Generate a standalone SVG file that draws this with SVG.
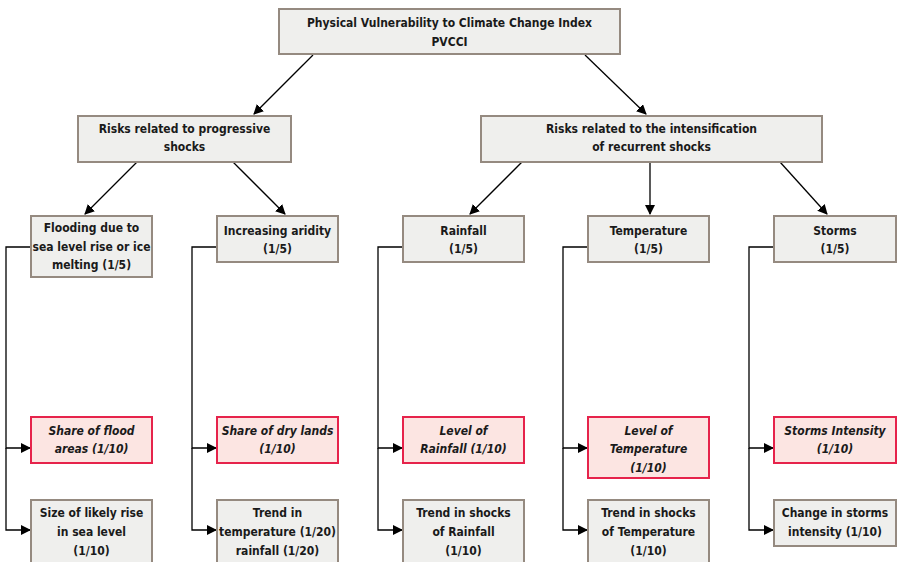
<svg xmlns="http://www.w3.org/2000/svg" width="897" height="562" viewBox="0 0 897 562">
<defs>
<marker id="ah" markerWidth="10" markerHeight="10" refX="9" refY="5" orient="auto" markerUnits="userSpaceOnUse">
<path d="M0,0 L10,5 L0,10 z" fill="#000"/>
</marker>
<style>
.g{fill:#efefed;stroke:#958a80;stroke-width:2}
.r{fill:#fce5e2;stroke:#e6234b;stroke-width:2}
text{font-family:"DejaVu Sans Condensed","Liberation Sans Narrow","Liberation Sans",sans-serif;font-stretch:condensed;font-weight:bold;font-size:12px;fill:#1a1a1a;text-anchor:middle;dominant-baseline:central}
.i{font-style:italic}
.c{fill:none;stroke:#000;stroke-width:1.3}
</style>
</defs>
<rect width="897" height="562" fill="#fff"/>
<g id="connectors">
<path class="c" d="M313,55 L254,114" marker-end="url(#ah)"/>
<path class="c" d="M585,55 L646,114" marker-end="url(#ah)"/>
<path class="c" d="M137,162 L85,214" marker-end="url(#ah)"/>
<path class="c" d="M233,162 L285,214" marker-end="url(#ah)"/>
<path class="c" d="M522,162 L470,214" marker-end="url(#ah)"/>
<path class="c" d="M650,162 L650,214" marker-end="url(#ah)"/>
<path class="c" d="M780,162 L827,214" marker-end="url(#ah)"/>
<path class="c" d="M31,247 H6 V448 H30" marker-end="url(#ah)"/>
<path class="c" d="M6,448 V530 H30" marker-end="url(#ah)"/>
<path class="c" d="M217,247 H192 V448 H216" marker-end="url(#ah)"/>
<path class="c" d="M192,448 V530 H216" marker-end="url(#ah)"/>
<path class="c" d="M403,247 H378 V448 H402" marker-end="url(#ah)"/>
<path class="c" d="M378,448 V530 H402" marker-end="url(#ah)"/>
<path class="c" d="M588,247 H563 V448 H587" marker-end="url(#ah)"/>
<path class="c" d="M563,448 V530 H587" marker-end="url(#ah)"/>
<path class="c" d="M774,247 H749 V448 H773" marker-end="url(#ah)"/>
<path class="c" d="M749,448 V530 H773" marker-end="url(#ah)"/>
</g>
<g id="pvcci"><rect class="g" x="279" y="9" width="341" height="45"/><text x="449.5" y="23">Physical Vulnerability to Climate Change Index</text><text x="449.5" y="42">PVCCI</text></g>
<g id="progressive"><rect class="g" x="78" y="116" width="213" height="46"/><text x="184.5" y="129">Risks related to progressive</text><text x="184.5" y="147">shocks</text></g>
<g id="recurrent"><rect class="g" x="481" y="116" width="341" height="46"/><text x="651.5" y="129">Risks related to the intensification</text><text x="651.5" y="147">of recurrent shocks</text></g>
<g id="flooding"><rect class="g" x="31" y="216" width="121" height="61"/><text x="91.5" y="228">Flooding due to</text><text x="91.5" y="247">sea level rise or ice</text><text x="91.5" y="265">melting (1/5)</text></g>
<g id="aridity"><rect class="g" x="217" y="216" width="121" height="46"/><text x="277.5" y="231">Increasing aridity</text><text x="277.5" y="249">(1/5)</text></g>
<g id="rainfall"><rect class="g" x="403" y="216" width="121" height="46"/><text x="463.5" y="231">Rainfall</text><text x="463.5" y="249">(1/5)</text></g>
<g id="temperature"><rect class="g" x="588" y="216" width="121" height="46"/><text x="648.5" y="231">Temperature</text><text x="648.5" y="249">(1/5)</text></g>
<g id="storms"><rect class="g" x="774" y="216" width="122" height="46"/><text x="835" y="231">Storms</text><text x="835" y="249">(1/5)</text></g>
<g id="flood-areas"><rect class="r" x="31" y="417" width="121" height="46"/><text class="i" x="91.5" y="431">Share of flood</text><text class="i" x="91.5" y="449">areas (1/10)</text></g>
<g id="sea-level"><rect class="g" x="31" y="500" width="121" height="63"/><text x="91.5" y="513">Size of likely rise</text><text x="91.5" y="532">in sea level</text><text x="91.5" y="551">(1/10)</text></g>
<g id="dry-lands"><rect class="r" x="217" y="417" width="121" height="46"/><text class="i" x="277.5" y="431">Share of dry lands</text><text class="i" x="277.5" y="449">(1/10)</text></g>
<g id="trend-temp-rain"><rect class="g" x="217" y="500" width="121" height="63"/><text x="277.5" y="513">Trend in</text><text x="277.5" y="532">temperature (1/20)</text><text x="277.5" y="551">rainfall (1/20)</text></g>
<g id="level-rainfall"><rect class="r" x="403" y="417" width="121" height="46"/><text class="i" x="463.5" y="431">Level of</text><text class="i" x="463.5" y="449">Rainfall (1/10)</text></g>
<g id="shocks-rainfall"><rect class="g" x="403" y="500" width="121" height="63"/><text x="463.5" y="513">Trend in shocks</text><text x="463.5" y="532">of Rainfall</text><text x="463.5" y="551">(1/10)</text></g>
<g id="level-temperature"><rect class="r" x="588" y="417" width="121" height="61"/><text class="i" x="648.5" y="431">Level of</text><text class="i" x="648.5" y="449">Temperature</text><text class="i" x="648.5" y="468">(1/10)</text></g>
<g id="shocks-temperature"><rect class="g" x="588" y="500" width="121" height="63"/><text x="648.5" y="513">Trend in shocks</text><text x="648.5" y="532">of Temperature</text><text x="648.5" y="551">(1/10)</text></g>
<g id="storms-intensity"><rect class="r" x="774" y="417" width="122" height="46"/><text class="i" x="835" y="431">Storms Intensity</text><text class="i" x="835" y="449">(1/10)</text></g>
<g id="storms-change"><rect class="g" x="774" y="500" width="122" height="46"/><text x="835" y="513">Change in storms</text><text x="835" y="532">intensity (1/10)</text></g>
</svg>
